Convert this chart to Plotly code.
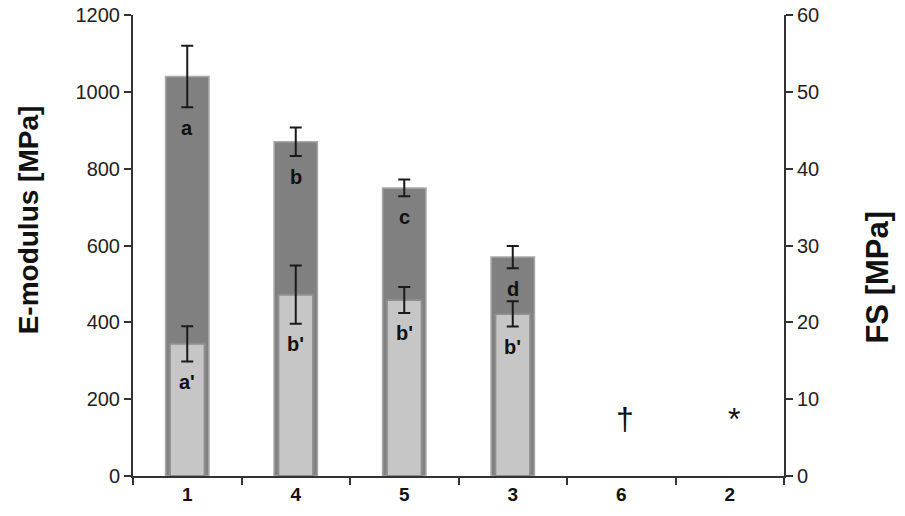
import plotly.graph_objects as go

categories = ["1", "4", "5", "3", "6", "2"]
emod_cats = ["1", "4", "5", "3"]
emod_values = [1040, 870, 750, 570]
emod_errors = [80, 37, 22, 29]
emod_letters = ["a", "b", "c", "d"]
fs_values = [17.2, 23.6, 22.9, 21.1]
fs_errors = [2.3, 3.8, 1.7, 1.65]
fs_letters = ["a'", "b'", "b'", "b'"]
symbol_cats = ["6", "2"]
symbol_texts = ["†", "*"]
symbol_level = 148  # E-modulus units

FONT = "Liberation Sans, Arial, sans-serif"
idx = {c: i for i, c in enumerate(categories)}

fig = go.Figure()
fig.add_trace(go.Bar(
    x=emod_cats, y=emod_values, yaxis="y", width=0.4, offset=-0.2,
    marker=dict(color="#808080", line=dict(color="#a8a8a8", width=1.5)),
    error_y=dict(type="data", array=emod_errors, color="#1a1a1a", thickness=2, width=6),
    showlegend=False,
))
fig.add_trace(go.Bar(
    x=emod_cats, y=fs_values, yaxis="y2", width=0.32, offset=-0.16,
    marker=dict(color="#c6c6c6", line=dict(color="#8e8e8e", width=2)),
    error_y=dict(type="data", array=fs_errors, color="#1a1a1a", thickness=2, width=6),
    showlegend=False,
))

annotations = []
for c, v, e, t in zip(emod_cats, emod_values, emod_errors, emod_letters):
    annotations.append(dict(x=idx[c], xref="x", y=v - e, yref="y", text=f"<b>{t}</b>", showarrow=False,
                            yanchor="middle", yshift=-21, font=dict(size=20, color="#111", family=FONT)))
for c, v, e, t in zip(emod_cats, fs_values, fs_errors, fs_letters):
    annotations.append(dict(x=idx[c], xref="x", y=v - e, yref="y2", text=f"<b>{t}</b>", showarrow=False,
                            yanchor="middle", yshift=-20, font=dict(size=20, color="#111", family=FONT)))
for c, t in zip(symbol_cats, symbol_texts):
    annotations.append(dict(x=idx[c], xref="x", y=symbol_level, yref="y", text=t, showarrow=False,
                            xshift=4, yanchor="middle", font=dict(size=32, color="#111", family=FONT)))
# axis titles
annotations.append(dict(x=-0.161, y=0.555, xref="paper", yref="paper", text="<b>E-modulus [MPa]</b>",
                        textangle=-90, showarrow=False, xanchor="center", yanchor="middle",
                        font=dict(size=28, family=FONT, color="#111")))
annotations.append(dict(x=1.144, y=0.432, xref="paper", yref="paper", text="<b>FS [MPa]</b>",
                        textangle=-90, showarrow=False, xanchor="center", yanchor="middle",
                        font=dict(size=31, family=FONT, color="#111")))

fig.update_layout(
    width=905, height=516,
    margin=dict(l=133, r=121, t=15, b=40),
    paper_bgcolor="white", plot_bgcolor="white",
    barmode="overlay",
    font=dict(family=FONT, size=20, color="#222"),
    annotations=annotations,
    xaxis=dict(type="category", categoryorder="array", categoryarray=categories,
               range=[-0.5, 5.5], showline=True, linecolor="#333", linewidth=2,
               ticks="outside", tickson="boundaries", ticklen=7, tickwidth=2, tickcolor="#333",
               tickfont=dict(size=19, family=FONT, color="#111"),
               tickvals=categories, ticktext=[f"<b>{c}</b>" for c in categories],
               showgrid=False, zeroline=False, automargin=False),
    yaxis=dict(range=[0, 1200], dtick=200, showline=True, linecolor="#333", linewidth=2,
               ticks="outside", ticklen=7, tickwidth=2, tickcolor="#333",
               showgrid=False, zeroline=False, automargin=False,
               tickfont=dict(size=20, family=FONT, color="#222")),
    yaxis2=dict(range=[0, 60], dtick=10, overlaying="y", side="right", showline=True,
                linecolor="#333", linewidth=2, ticks="outside", ticklen=7, tickwidth=2,
                tickcolor="#333", showgrid=False, zeroline=False, automargin=False,
                tickfont=dict(size=20, family=FONT, color="#222")),
)

fig.write_html("out.html", config={"displayModeBar": False},
               post_script="document.body.style.margin='0';")
